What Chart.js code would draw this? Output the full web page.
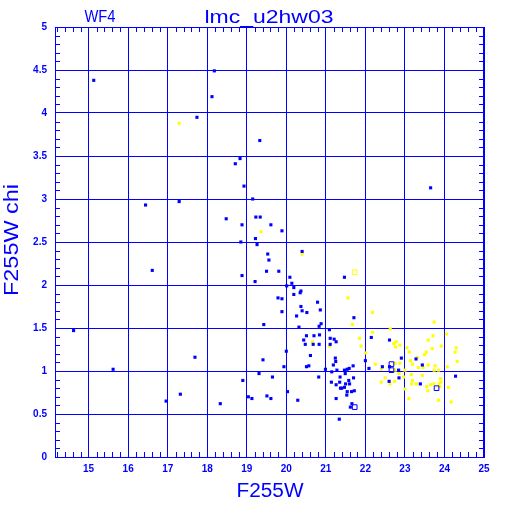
<!DOCTYPE html>
<html>
<head>
<meta charset="utf-8">
<script src="https://cdn.jsdelivr.net/npm/chart.js@4.4.1/dist/chart.umd.min.js"></script>
<style>
  html, body { margin: 0; background: #fff; }
</style>
</head>
<body>
<canvas id="chart" width="512" height="512"></canvas>
<script>
// tick labels
const xTicks = [15, 16, 17, 18, 19, 20, 21, 22, 23, 24, 25];
const yTicks = [0, 0.5, 1, 1.5, 2, 2.5, 3, 3.5, 4, 4.5, 5];

// blue stars (filled)
const blueX = [15.13, 18.18, 18.12, 17.74, 16.44, 17.29, 16.61, 14.62, 15.62, 17.69, 17.32, 16.96,
  19.33, 18.83, 18.71, 18.93, 19.15, 18.48, 19.23, 19.34, 18.88, 19.61, 19.89, 19.22, 18.85, 19.26,
  19.53, 19.56, 19.50, 19.81, 18.88, 19.21, 20.09, 20.14, 20.01, 20.19, 20.37, 20.35, 20.19, 19.79,
  19.89, 19.89, 20.26, 19.43, 20.32, 20.00, 19.41, 19.94, 19.31, 19.65, 18.90, 20.03, 19.04, 19.13,
  19.51, 19.61, 20.29, 18.33, 23.65, 20.40, 21.47, 20.79, 20.37, 20.40, 20.52, 20.86, 21.71, 20.88,
  20.83, 21.09, 20.51, 20.70, 20.84, 21.11, 21.21, 21.26, 22.15, 22.61, 20.44, 20.48, 20.68, 20.83,
  21.11, 20.61, 21.24, 21.25, 21.19, 22.00, 22.43, 22.61, 22.84, 20.51, 20.57, 20.99, 21.15, 21.28,
  21.47, 21.54, 21.59, 21.69, 20.82, 21.49, 21.70, 22.60, 21.14, 21.36, 21.35, 21.40, 21.47, 21.58,
  21.60, 21.50, 21.26, 21.37, 21.54, 21.53, 21.65, 21.72, 21.26, 21.66, 21.62, 21.34, 23.28, 22.91,
  23.44, 22.09, 24.28, 22.85, 23.39];
const blueY = [4.38, 4.49, 4.19, 3.95, 2.93, 2.97, 2.17, 1.47, 1.02, 1.16, 0.73, 0.65,
  3.68, 3.47, 3.41, 3.15, 3.00, 2.77, 2.79, 2.79, 2.70, 2.70, 2.63, 2.54, 2.50, 2.47,
  2.36, 2.29, 2.16, 2.16, 2.11, 2.04, 2.09, 2.02, 1.99, 1.97, 1.93, 1.91, 1.89, 1.85,
  1.84, 1.69, 1.64, 1.54, 1.51, 1.23, 1.13, 1.05, 0.97, 0.93, 0.89, 0.76, 0.70, 0.68,
  0.71, 0.68, 0.66, 0.62, 3.13, 2.39, 2.09, 1.80, 1.75, 1.70, 1.68, 1.71, 1.62, 1.55,
  1.52, 1.48, 1.41, 1.41, 1.42, 1.38, 1.37, 1.34, 1.39, 1.36, 1.36, 1.31, 1.31, 1.31,
  1.31, 1.18, 1.15, 1.11, 1.07, 1.12, 1.05, 1.05, 1.01, 1.05, 1.06, 1.02, 0.99, 1.01,
  1.01, 1.02, 1.03, 1.06, 0.93, 0.97, 0.92, 0.88, 0.87, 0.93, 0.87, 0.80, 0.81, 0.89,
  0.85, 0.85, 0.84, 0.80, 0.76, 0.72, 0.76, 0.77, 0.68, 0.62, 0.58, 0.44, 1.14, 1.15,
  1.07, 1.03, 0.94, 0.92, 0.85];

// blue open squares
const blueOpenX = [22.66, 22.66, 21.73, 23.80];
const blueOpenY = [1.08, 1.01, 0.58, 0.80];

// yellow stars (filled)
const yellowX = [17.29, 19.36, 20.40, 21.56, 22.18, 21.67, 22.63, 22.18, 21.85, 22.78, 20.66, 21.09,
  21.89, 22.76, 22.87, 22.00, 22.25, 22.75, 22.40, 22.75, 22.85, 22.50, 22.40, 22.74, 22.62, 23.74,
  24.05, 23.71, 23.59, 22.72, 23.92, 24.30, 23.05, 23.69, 23.11, 24.27, 23.54, 23.50, 23.31, 23.14,
  23.19, 24.32, 22.87, 23.59, 23.76, 23.34, 23.46, 24.07, 23.00, 23.74, 23.85, 23.16, 23.44, 22.97,
  23.90, 23.19, 23.17, 23.29, 23.55, 23.65, 23.73, 23.91, 23.86, 23.58, 24.10, 23.00, 23.88, 23.10,
  23.85, 24.17];
const yellowY = [3.88, 2.62, 2.36, 1.85, 1.68, 1.54, 1.49, 1.45, 1.38, 1.34, 1.34, 1.29,
  1.29, 1.28, 1.30, 1.21, 1.08, 1.09, 1.02, 1.01, 0.97, 0.92, 0.87, 0.88, 0.85, 1.57,
  1.43, 1.41, 1.36, 1.32, 1.29, 1.27, 1.27, 1.26, 1.22, 1.22, 1.22, 1.19, 1.16, 1.12,
  1.08, 1.11, 1.09, 1.07, 1.06, 1.04, 1.04, 1.05, 1.01, 1.01, 1.01, 0.96, 0.95, 0.93,
  0.91, 0.89, 0.85, 0.85, 0.82, 0.84, 0.85, 0.87, 0.85, 0.77, 0.81, 0.79, 0.82, 0.68,
  0.66, 0.64];

// yellow open squares
const yellowOpenX = [21.73];
const yellowOpenY = [2.15];

const BLUE = "#0000ff";
const YELLOW = "#ffff00";

const pts = (xs, ys) => xs.map((x, i) => ({ x: x, y: ys[i] }));

// inward minor ticks on all four sides
const minorTicks = {
  id: "minorTicks",
  afterDraw: (chart) => {
    const { ctx, chartArea: a, scales } = chart;
    ctx.save();
    ctx.strokeStyle = BLUE;
    ctx.lineWidth = 1;
    ctx.beginPath();
    for (let i = 71; i <= 125; i++) {
      const v = i / 5;
      const px = Math.round(scales.x.getPixelForValue(v)) + 0.5;
      const len = i % 5 === 0 ? 0 : 5;
      if (!len) continue;
      ctx.moveTo(px, a.top); ctx.lineTo(px, a.top + len);
      ctx.moveTo(px, a.bottom); ctx.lineTo(px, a.bottom - len);
    }
    for (let i = 1; i < 50; i++) {
      if (i % 5 === 0) continue;
      const py = Math.round(scales.y.getPixelForValue(i / 10)) + 0.5;
      ctx.moveTo(a.left, py); ctx.lineTo(a.left + 5, py);
      ctx.moveTo(a.right, py); ctx.lineTo(a.right - 5, py);
    }
    ctx.stroke();
    ctx.fillStyle = BLUE;
    ctx.fillRect(a.right - 1, a.top, 2, a.bottom - a.top);
    ctx.restore();
  },
};

// stretch a label to the width it has in the picture
function fitText(ctx, text, cx, cy, width, size, rot) {
  ctx.save();
  ctx.font = size + "px 'Liberation Sans'";
  ctx.fillStyle = BLUE;
  ctx.textAlign = "center";
  ctx.textBaseline = "middle";
  const w = ctx.measureText(text).width;
  ctx.translate(cx, cy);
  if (rot) ctx.rotate(-Math.PI / 2);
  ctx.scale(width / w, 1);
  ctx.fillText(text, 0, 0);
  ctx.restore();
}

const labels = {
  id: "labels",
  afterDraw: (chart) => {
    const ctx = chart.ctx;
    fitText(ctx, "lmc_u2hw03", 269, 18, 129, 18);
    fitText(ctx, "WF4", 100, 18, 31, 16);
    fitText(ctx, "F255W", 270, 491, 67, 20);
    fitText(ctx, "F255W chi", 12, 240, 112, 20, true);
  },
};

const tickFont = { family: "'Liberation Sans'", size: 10, weight: "bold" };

new Chart(document.getElementById("chart"), {
  type: "scatter",
  data: {
    datasets: [
      {
        data: pts(blueOpenX, blueOpenY),
        pointStyle: "rect",
        pointRadius: 3.3,
        backgroundColor: "rgba(0,0,0,0)",
        borderColor: BLUE,
        borderWidth: 1,
      },
      {
        data: pts(yellowOpenX, yellowOpenY),
        pointStyle: "rect",
        pointRadius: 3.3,
        backgroundColor: "rgba(0,0,0,0)",
        borderColor: YELLOW,
        borderWidth: 1,
      },
      {
        data: pts(blueX, blueY),
        pointStyle: "rect",
        pointRadius: 2.2,
        backgroundColor: BLUE,
        borderWidth: 0,
      },
      {
        data: pts(yellowX, yellowY),
        pointStyle: "rect",
        pointRadius: 2.2,
        backgroundColor: YELLOW,
        borderWidth: 0,
      },
    ],
  },
  options: {
    responsive: false,
    animation: false,
    events: [],
    layout: { padding: { top: 27, right: 28, left: 0, bottom: 0 } },
    plugins: { legend: { display: false }, tooltip: { enabled: false } },
    scales: {
      x: {
        type: "linear",
        min: 14.15,
        max: 25,
        afterBuildTicks: (s) => { s.ticks = xTicks.map((v) => ({ value: v })); },
        afterFit: (s) => { s.height = 55; },
        grid: { color: BLUE, lineWidth: 1, drawTicks: false },
        border: { color: BLUE, width: 1 },
        ticks: { color: BLUE, font: tickFont, padding: 6, maxRotation: 0, autoSkip: false },
      },
      y: {
        type: "linear",
        min: 0,
        max: 5,
        afterBuildTicks: (s) => { s.ticks = yTicks.map((v) => ({ value: v })); },
        afterFit: (s) => { s.width = 55; },
        grid: { color: BLUE, lineWidth: 1, drawTicks: false },
        border: { color: BLUE, width: 1 },
        ticks: { color: BLUE, font: tickFont, padding: 8, autoSkip: false,
          callback: (v) => String(v) },
      },
    },
  },
  plugins: [minorTicks, labels],
});
</script>
</body>
</html>
